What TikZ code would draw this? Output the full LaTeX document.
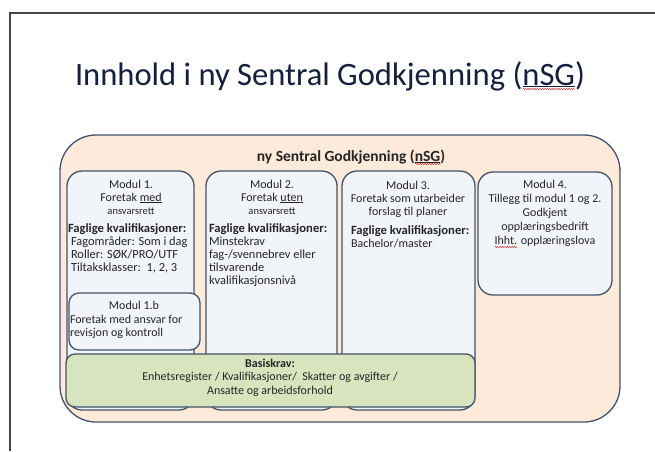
\documentclass[tikz,border=0pt]{standalone}
\usepackage{fontspec}
\setmainfont{Carlito}
\usetikzlibrary{decorations.pathmorphing,calc}
\definecolor{peach}{RGB}{253,234,218}
\definecolor{modfill}{RGB}{241,244,248}
\definecolor{greenfill}{RGB}{215,228,189}
\definecolor{edge}{RGB}{68,82,106}
\definecolor{titlecol}{RGB}{22,32,60}
\definecolor{txtcol}{RGB}{38,38,38}
\definecolor{spell}{RGB}{215,45,45}
\definecolor{framecol}{RGB}{70,70,70}
\newcommand{\fagkv}{{\fontsize{12.6}{13}\selectfont\bfseries Faglige kvalifikasjoner:}}
\begin{document}
\begin{tikzpicture}[x=1pt,y=-1pt,
  box/.style={draw=edge, line width=1.3pt, rectangle, inner sep=0pt, outer sep=0pt, anchor=north west},
  outerbox/.style={box, fill=peach, rounded corners=36pt},
  modbox/.style={box, fill=modfill, rounded corners=15pt},
  subbox/.style={box, fill=modfill, rounded corners=10pt},
  basebox/.style={box, fill=greenfill, rounded corners=9pt},
  txt/.style={inner sep=0pt, outer sep=0pt, text=txtcol, font=\fontsize{12}{13}\selectfont},
  ctxt/.style={txt, align=center, anchor=base},
  ltxt/.style={txt, align=left, anchor=base west},
  listfont/.style={font=\fontsize{12.4}{13}\selectfont},
  hdrfont/.style={font=\bfseries\fontsize{15.5}{18}\selectfont},
  titlefont/.style={font=\fontsize{32.6}{38}\selectfont},
  ghost/.style={inner sep=0pt, outer sep=0pt, anchor=base west},
  wave/.style={draw=spell, line width=0.5pt, decorate, decoration={snake, amplitude=0.6pt, segment length=2.4pt}},
  framepen/.style={draw=framecol, line width=1.2pt},
]
\useasboundingbox (0,0) rectangle (655,451);
\fill[white] (0,0) rectangle (655,451);
\coordinate (fa) at (10,451);
\coordinate (fb) at (10,13);
\coordinate (fc) at (655,13);
\draw[framepen] (fa) -- (fb) -- (fc);

% title
\node[txt, titlefont, text=titlecol, anchor=base west] (title) at (75,85) {Innhold i ny Sentral Godkjenning (\underline{nSG})};
\node[ghost, titlefont] (tga) at (title.base west) {\phantom{Innhold i ny Sentral Godkjenning (}};
\node[ghost, titlefont] (tgb) at (tga.base east) {\phantom{nSG}};
\draw[wave] ($(tgb.base west)+(0,4)$) -- ($(tgb.base east)+(0,4)$);

% boxes
\node[outerbox, minimum width=560, minimum height=287] (outer) at (60,135) {};
\node[modbox, minimum width=127, minimum height=239] (m1) at (67,171) {};
\node[modbox, minimum width=131, minimum height=239] (m2) at (206,171) {};
\node[modbox, minimum width=133, minimum height=239] (m3) at (342,171) {};
\node[modbox, minimum width=134, minimum height=123] (m4) at (478,172) {};
\node[subbox, minimum width=131, minimum height=57] (m1b) at (69,293) {};
\node[basebox, minimum width=409, minimum height=53] (basis) at (66,354) {};

% header
\node[txt, hdrfont, anchor=base] (hdr) at (351,161) {ny Sentral Godkjenning (\underline{nSG})};
\node[ghost, hdrfont] (hga) at (hdr.base west) {\phantom{ny Sentral Godkjenning (}};
\node[ghost, hdrfont] (hgb) at (hga.base east) {\phantom{nSG}};
\draw[wave] ($(hgb.base west)+(0,3)$) -- ($(hgb.base east)+(0,3)$);

% (multi-line nodes are placed by the baseline of their last line)
% module 1
\node[ctxt] (m1a) at (131,214) {Modul 1.\\Foretak \underline{med}\\{\fontsize{10.5}{13}\selectfont ansvarsrett}};
\node[ltxt, listfont] (m1c) at (68,271) {\fagkv\\\hspace*{3pt}Fagområder: Som i dag\\\hspace*{3pt}Roller: SØK/PRO/UTF\\\hspace*{3pt}Tiltaksklasser:\ \ 1, 2, 3};

% module 1b
\node[ctxt] (m1ba) at (134,309) {Modul 1.b};
\node[ltxt] (m1bb) at (70,336) {Foretak med ansvar for\\revisjon og kontroll};

% module 2
\node[ctxt] (m2a) at (272,214) {Modul 2.\\Foretak \underline{uten}\\{\fontsize{10.5}{13}\selectfont ansvarsrett}};
\node[ltxt, listfont] (m2c) at (209,284) {\fagkv\\Minstekrav\\fag-/svennebrev eller\\tilsvarende\\kvalifikasjonsnivå};

% module 3
\node[ctxt] (m3a) at (408,215) {Modul 3.\\Foretak som utarbeider\\forslag til planer};
\node[ltxt] (m3c) at (351,247) {\fagkv\\Bachelor/master};

% module 4
\node[ctxt, font=\fontsize{12}{13.7}\selectfont] (m4a) at (545,230) {Modul 4.\\Tillegg til modul 1 og 2.\\Godkjent\\opplæringsbedrift};
\node[ctxt] (m4b) at (545,244) {Ihht. opplæringslova};
\node[ghost, txt] (ihht) at (m4b.base west) {\phantom{Ihht.}};
\draw[wave] ($(ihht.base west)+(0,3)$) -- ($(ihht.base east)+(0,3)$);

% basiskrav
\node[ctxt, font=\fontsize{12}{13.5}\selectfont] (bk) at (270,394) {\textbf{Basiskrav:}\\Enhetsregister / Kvalifikasjoner/\ \ Skatter og avgifter /\\Ansatte og arbeidsforhold};
\end{tikzpicture}
\end{document}
